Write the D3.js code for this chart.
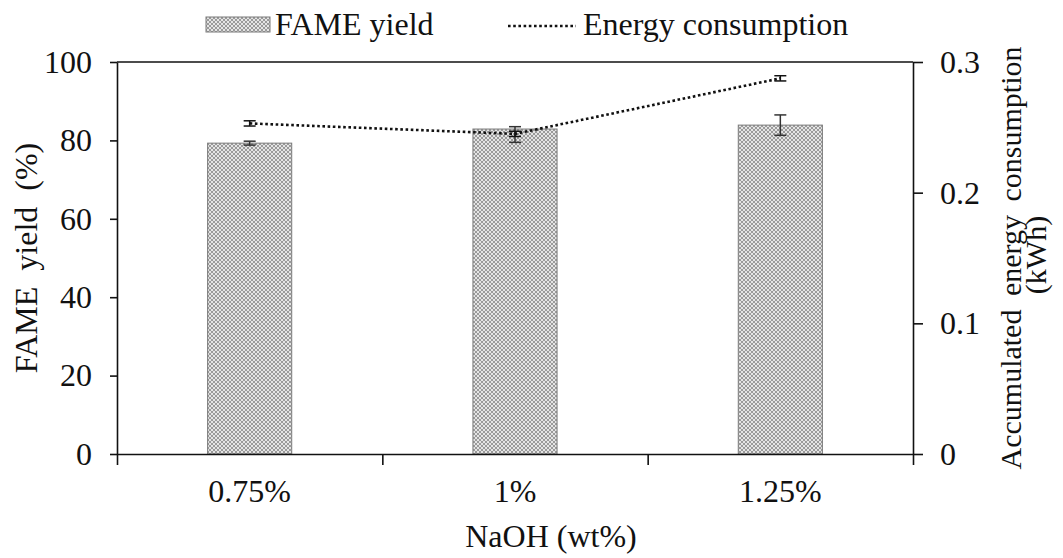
<!DOCTYPE html>
<html>
<head>
  <meta charset="utf-8">
</head>
<body style="margin:0">
  <script src="https://d3js.org/d3.v7.min.js"></script>
  <script>
    // Data
    var categories = ["0.75%", "1%", "1.25%"];
    var fameYield = [79.3, 82.9, 83.9];
    var yieldErrLow = [0.5, 3.4, 2.6];
    var yieldErrHigh = [0.5, 0.6, 2.6];
    var energy = [0.253, 0.245, 0.2875];
    var energyErr = [0.002, 0.002, 0.002];
    var yTicks = [0, 20, 40, 60, 80, 100];
    var y2Ticks = [0, 0.1, 0.2, 0.3];

    var width = 1063, height = 558;
    var plotLeft = 117, plotRight = 913, plotTop = 62, plotBottom = 454;
    var fontSize = 32;
    var serif = "'Liberation Serif'";

    var svg = d3.select("body")
      .append("svg")
      .attr("width", width)
      .attr("height", height);

    // hatch pattern for the bars
    var defs = svg.append("defs");
    var pat = defs.append("pattern")
      .attr("id", "hatch")
      .attr("patternUnits", "userSpaceOnUse")
      .attr("width", 4)
      .attr("height", 4);
    pat.append("rect").attr("width", 4).attr("height", 4).attr("fill", "#e4e4e4");
    pat.append("path")
      .attr("d", "M0,0L4,4M4,0L0,4")
      .attr("stroke", "#9a9a9a")
      .attr("stroke-width", 1);

    // scales
    var x = d3.scaleBand()
      .domain(categories)
      .range([plotLeft, plotRight])
      .paddingInner(0.683)
      .paddingOuter(0.3415);

    var xSlots = d3.scaleLinear()
      .domain([0, categories.length])
      .range([plotLeft, plotRight]);

    var y = d3.scaleLinear().domain([0, 100]).range([plotBottom, plotTop]);
    var y2 = d3.scaleLinear().domain([0, 0.3]).range([plotBottom, plotTop]);

    // text in the serif face
    function addText(parent, size) {
      return parent.append("text")
        .attr("font-size", size)
        .attr("font-family", serif)
        .attr("fill", "#111");
    }

    function styleAxis(g) {
      g.select(".domain").attr("stroke", "#111").attr("stroke-width", 1.6);
      g.selectAll(".tick line").attr("stroke", "#111").attr("stroke-width", 1.6);
      g.selectAll(".tick text").remove();
    }

    // top frame line
    svg.append("line")
      .attr("x1", plotLeft).attr("x2", plotRight)
      .attr("y1", plotTop).attr("y2", plotTop)
      .attr("stroke", "#111")
      .attr("stroke-width", 1.6);

    // bars
    svg.selectAll(".bar")
      .data(categories)
      .enter()
      .append("rect")
      .attr("class", "bar")
      .attr("x", function(d) { return x(d); })
      .attr("y", function(d, i) { return y(fameYield[i]); })
      .attr("width", x.bandwidth())
      .attr("height", function(d, i) { return y(0) - y(fameYield[i]); })
      .attr("fill", "url(#hatch)")
      .attr("stroke", "#7a7a7a")
      .attr("stroke-width", 1);

    // bar error bars
    var capW = 6;
    categories.forEach(function(c, i) {
      var cx = x(c) + x.bandwidth() / 2;
      var lo = y(fameYield[i] - yieldErrLow[i]);
      var hi = y(fameYield[i] + yieldErrHigh[i]);
      var g = svg.append("g").attr("stroke", "#333").attr("stroke-width", 1.5);
      g.append("line").attr("x1", cx).attr("x2", cx).attr("y1", lo).attr("y2", hi);
      g.append("line").attr("x1", cx - capW).attr("x2", cx + capW).attr("y1", lo).attr("y2", lo);
      g.append("line").attr("x1", cx - capW).attr("x2", cx + capW).attr("y1", hi).attr("y2", hi);
    });

    // energy line
    var line = d3.line()
      .x(function(d, i) { return x(categories[i]) + x.bandwidth() / 2; })
      .y(function(d) { return y2(d); });

    svg.append("path")
      .datum(energy)
      .attr("d", line)
      .attr("fill", "none")
      .attr("stroke", "#111")
      .attr("stroke-width", 2.6)
      .attr("stroke-dasharray", "2.6,2.6");

    categories.forEach(function(c, i) {
      var cx = x(c) + x.bandwidth() / 2;
      var lo = y2(energy[i] - energyErr[i]);
      var hi = y2(energy[i] + energyErr[i]);
      var g = svg.append("g").attr("stroke", "#111").attr("stroke-width", 1.5);
      g.append("line").attr("x1", cx).attr("x2", cx).attr("y1", lo).attr("y2", hi);
      g.append("line").attr("x1", cx - 6).attr("x2", cx + 6).attr("y1", lo).attr("y2", lo);
      g.append("line").attr("x1", cx - 6).attr("x2", cx + 6).attr("y1", hi).attr("y2", hi);
    });

    // left axis (lines from d3, labels as plain serif text)
    svg.append("g")
      .attr("transform", "translate(" + plotLeft + ",0)")
      .call(d3.axisLeft(y).tickValues(yTicks).tickSize(7).tickSizeOuter(0))
      .call(styleAxis);
    yTicks.forEach(function(t) {
      addText(svg, fontSize)
        .attr("x", plotLeft - 25)
        .attr("y", y(t))
        .attr("dy", "0.34em")
        .attr("text-anchor", "end")
        .text(t);
    });

    // right axis
    svg.append("g")
      .attr("transform", "translate(" + plotRight + ",0)")
      .call(d3.axisRight(y2).tickValues(y2Ticks).tickSize(10).tickSizeOuter(0))
      .call(styleAxis);
    y2Ticks.forEach(function(t) {
      addText(svg, fontSize)
        .attr("x", plotRight + 27)
        .attr("y", y2(t))
        .attr("dy", "0.34em")
        .text(t === 0 ? "0" : d3.format(".1f")(t));
    });

    // bottom axis: ticks between categories
    svg.append("g")
      .attr("transform", "translate(0," + plotBottom + ")")
      .call(d3.axisBottom(xSlots).tickValues(d3.range(categories.length + 1)).tickSize(11).tickSizeOuter(0))
      .call(styleAxis);

    // category labels
    categories.forEach(function(c) {
      addText(svg, fontSize)
        .attr("x", x(c) + x.bandwidth() / 2)
        .attr("y", 502)
        .attr("text-anchor", "middle")
        .text(c);
    });

    // axis titles
    addText(svg, fontSize)
      .attr("x", 551)
      .attr("y", 547)
      .attr("text-anchor", "middle")
      .text("NaOH (wt%)");

    addText(svg, fontSize)
      .attr("transform", "translate(37,258) rotate(-90)")
      .attr("text-anchor", "middle")
      .attr("word-spacing", 8)
      .text("FAME yield (%)");

    addText(svg, 30)
      .attr("transform", "translate(1021,258) rotate(-90)")
      .attr("text-anchor", "middle")
      .attr("word-spacing", 6)
      .text("Accumulated energy consumption");

    addText(svg, 30)
      .attr("transform", "translate(1046,255) rotate(-90)")
      .attr("text-anchor", "middle")
      .text("(kWh)");

    // legend
    var legend = svg.append("g");
    legend.append("rect")
      .attr("x", 206).attr("y", 17)
      .attr("width", 64).attr("height", 15)
      .attr("fill", "url(#hatch)")
      .attr("stroke", "#7a7a7a")
      .attr("stroke-width", 1);
    addText(legend, fontSize)
      .attr("x", 275).attr("y", 35)
      .text("FAME yield");
    legend.append("line")
      .attr("x1", 508).attr("x2", 576)
      .attr("y1", 26).attr("y2", 26)
      .attr("stroke", "#111")
      .attr("stroke-width", 2.6)
      .attr("stroke-dasharray", "2.6,2.6");
    addText(legend, fontSize)
      .attr("x", 583).attr("y", 35)
      .text("Energy consumption");
  </script>
</body>
</html>
